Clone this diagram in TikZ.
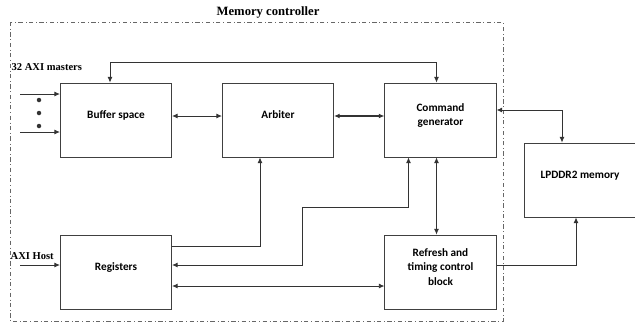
\documentclass[tikz,border=0pt]{standalone}
\usepackage{fontspec}
\setsansfont{Carlito}
\newfontfamily\labelfont{Liberation Serif}
\usepackage{tikz}
\usetikzlibrary{arrows.meta, positioning}

\begin{document}
\begin{tikzpicture}[
        x=0.025cm, y=-0.025cm,
        block/.style={rectangle, draw=black!75, semithick, align=center, font=\sffamily\bfseries\fontsize{8}{10}\selectfont, minimum width=2.78cm, minimum height=1.85cm, text depth=0.25cm},
        outlabel/.style={font=\labelfont\bfseries\fontsize{7.5}{9}\selectfont, inner sep=1pt},
        arrow/.style={{Latex[length=4pt,width=3.5pt]}-{Latex[length=4pt,width=3.5pt]}, black!80, semithick},
        inarrow/.style={-{Latex[length=4pt,width=3.5pt]}, black!80, semithick}
    ]
    \useasboundingbox (0,0) rectangle (635,324);
    % memory controller boundary
    \draw[black!60, dash dot] (10,22) rectangle (503,321);
    \node[font=\labelfont\bfseries\fontsize{9}{11}\selectfont] (title) at (268,12) {Memory controller};

    \node[block] (buf) at (116,120) {Buffer space};
    \node[block] (arb) at (278,120) {Arbiter};
    \node[block] (cmd) at (440.5,120) {Command\\generator};
    \node[block] (mem) at (580,180) {LPDDR2 memory};
    \node[block] (reg) at (116,272) {Registers};
    \node[block] (ref) at (440.5,272) {Refresh and\\timing control\\block};

    % inputs
    \node[outlabel, anchor=west] (masters) at (10,67) {32 AXI masters};
    \node[outlabel, anchor=west] (host) at (9,256) {AXI Host};
    \coordinate (m1) at (20,94);
    \coordinate (m2) at (20,132);
    \coordinate (h1) at (20,265);
    \draw[inarrow] (m1) -- (m1 -| buf.west);
    \draw[inarrow] (m2) -- (m2 -| buf.west);
    \foreach \yy in {100,113,126}
        \fill[black!80] (39,\yy) circle (1.6pt);
    \draw[inarrow] (h1) -- (h1 -| reg.west);

    % connections
    \draw[arrow] ([xshift=-0.15cm]buf.north) -- ++(0,-20) -| ([xshift=-0.1cm]cmd.north);
    \draw[arrow] ([yshift=0.1cm]buf.east) -- ([yshift=0.1cm]arb.west);
    \draw[arrow, thick] ([yshift=0.1cm]arb.east) -- ([yshift=0.1cm]cmd.west);
    \draw[arrow] ([yshift=0.25cm]cmd.east) -| ([xshift=-0.45cm]mem.north);
    \draw[inarrow] ([yshift=0.65cm]reg.east) -| ([xshift=-0.45cm]arb.south);
    \coordinate (bend) at (302,207);
    \draw[arrow] ([xshift=-0.8cm]cmd.south) |- (bend) |- ([yshift=0.175cm]reg.east);
    \draw[arrow] ([xshift=-0.1cm]cmd.south) -- ([xshift=-0.1cm]ref.north);
    \draw[arrow] ([yshift=-0.35cm]reg.east) -- ([yshift=-0.35cm]ref.west);
    \draw[inarrow] ([yshift=0.175cm]ref.east) -| ([xshift=-0.1cm]mem.south);
\end{tikzpicture}
\end{document}
